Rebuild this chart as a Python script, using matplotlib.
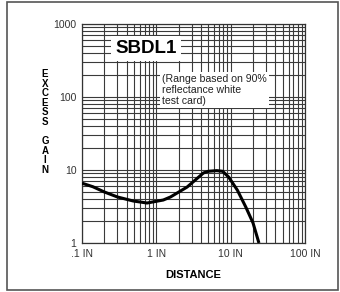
import numpy as np
import matplotlib.pyplot as plt
from matplotlib.patches import Rectangle
from matplotlib.ticker import FixedLocator, LogLocator, NullFormatter

plt.rcParams['font.family'] = ['Liberation Sans', 'DejaVu Sans']

# excess gain curve
distance = [0.1, 0.14, 0.2, 0.30, 0.49, 0.75, 1.24, 1.55, 2.6, 4.3, 5.0, 6.5, 7.8, 9.4, 12.3, 16, 20, 24]
gain = [6.6, 5.9, 5.0, 4.27, 3.76, 3.53, 3.88, 4.27, 5.85, 9.1, 9.6, 9.8, 9.6, 8.0, 5.3, 3.1, 1.88, 1.0]

x_ticks = [0.1, 1, 10, 100]
x_labels = ['.1 IN', '1 IN', '10 IN', '100 IN']
y_ticks = [1, 10, 100, 1000]
y_labels = ['1', '10', '100', '1000']

W, H = 340, 292
fig = plt.figure(figsize=(W / 100, H / 100), dpi=100)

# outer frame of the card
fig.patches.append(Rectangle((7 / W, 1 - 290 / H), 331 / W, 288 / H,
                             transform=fig.transFigure, fill=False,
                             edgecolor='#555555', lw=1.2))

ax = fig.add_axes([82 / W, 1 - 243 / H, 223 / W, 219 / H])
ax.set_xscale('log')
ax.set_yscale('log')
ax.set_xlim(0.1, 100)
ax.set_ylim(1, 1000)

ax.xaxis.set_major_locator(FixedLocator(x_ticks))
ax.yaxis.set_major_locator(FixedLocator(y_ticks))
ax.xaxis.set_minor_locator(LogLocator(base=10, subs=np.arange(2, 10)))
ax.yaxis.set_minor_locator(LogLocator(base=10, subs=np.arange(2, 10)))
ax.xaxis.set_minor_formatter(NullFormatter())
ax.yaxis.set_minor_formatter(NullFormatter())
ax.set_xticklabels(x_labels, fontsize=7.5, color='#333333')
ax.set_yticklabels(y_labels, fontsize=7.5, color='#333333')
ax.tick_params(which='both', length=0, pad=4)

ax.grid(True, which='both', color='#3a3a3a', lw=0.8)
for s in ax.spines.values():
    s.set_color('#333333')
    s.set_linewidth(0.9)

ax.plot(distance, gain, color='black', lw=2.2, solid_capstyle='butt', zorder=3)

ax.text(0.148, 0.889, 'SBDL1', transform=ax.transAxes, fontsize=13.5,
        fontweight='bold', va='center', ha='left',
        bbox=dict(facecolor='white', edgecolor='none', pad=3))
ax.text(0.36, 0.77, '(Range based on 90%\nreflectance white\ntest card)',
        transform=ax.transAxes, fontsize=7.6, va='top', ha='left',
        linespacing=1.1, color='#222222',
        bbox=dict(facecolor='white', edgecolor='none', pad=1.5))

fig.text((82 + 305) / 2 / W, 1 - 275 / H, 'DISTANCE', fontsize=8,
         fontweight='bold', ha='center', va='center')

letters = 'EXCESS GAIN'
y0 = 74
for i, ch in enumerate(letters):
    if ch == ' ':
        continue
    fig.text(45 / W, 1 - (y0 + i * 9.6) / H, ch, fontsize=7,
             fontweight='bold', ha='center', va='center')

fig.savefig('out.png', dpi=100)
